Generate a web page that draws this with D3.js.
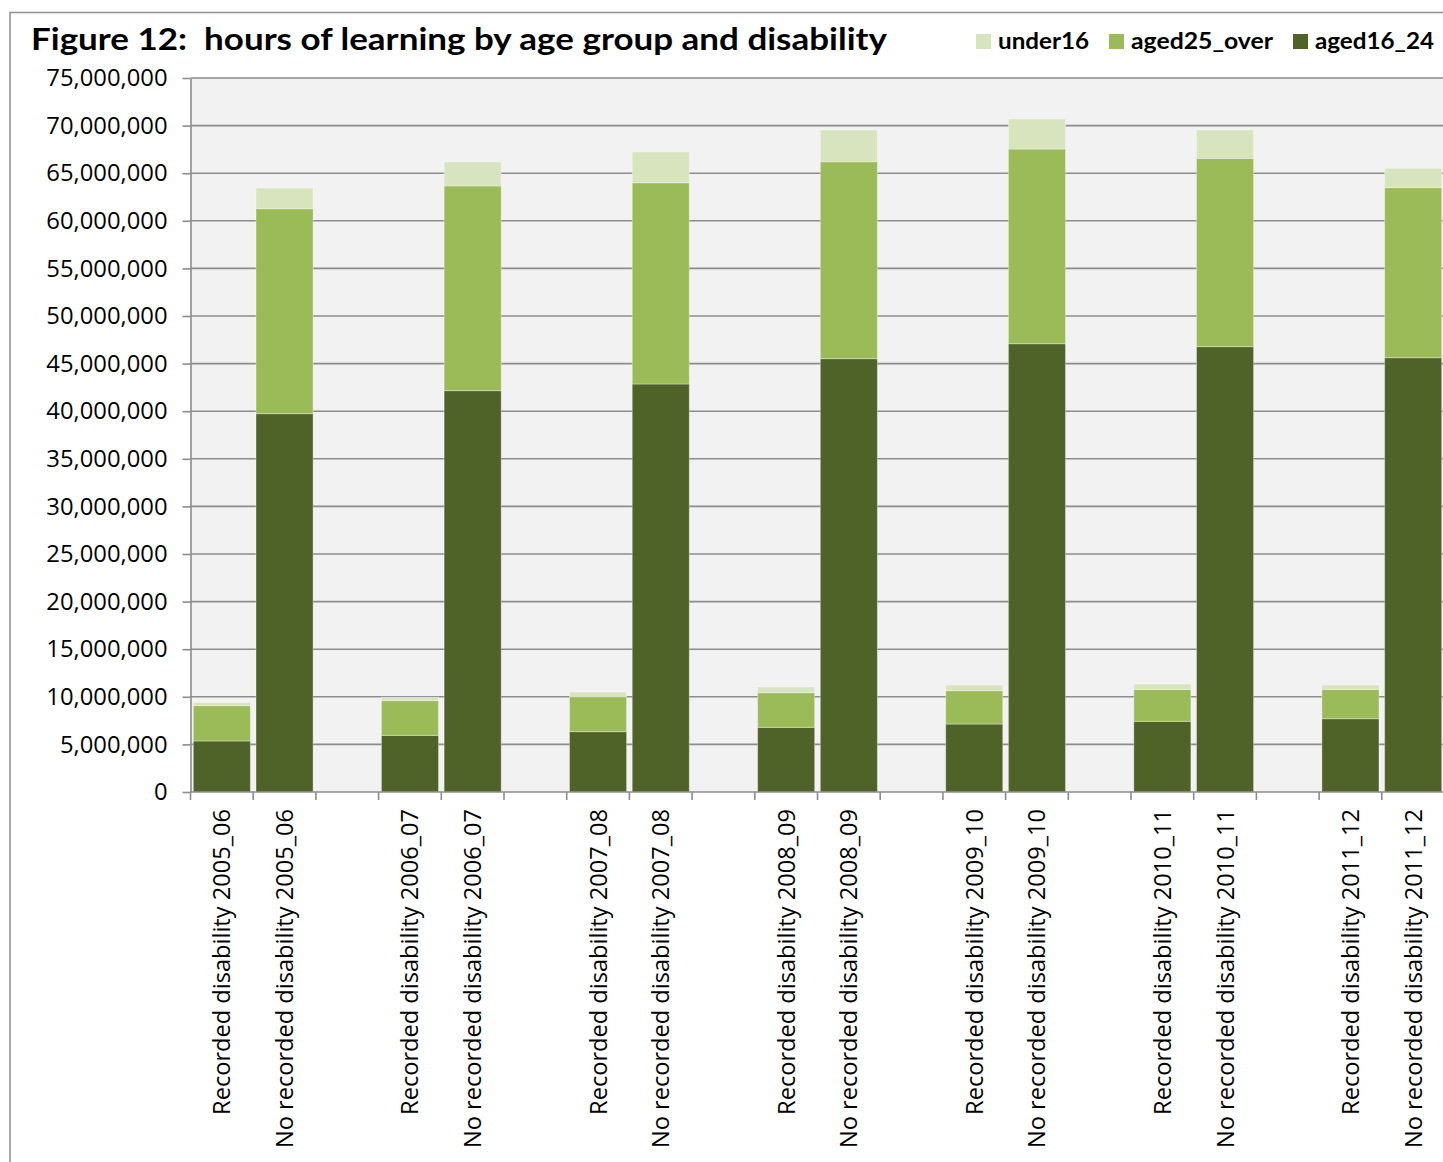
<!DOCTYPE html>
<html>
<head>
<meta charset="utf-8">
<script src="https://cdn.jsdelivr.net/npm/d3@7"></script>
<style>
  html, body { margin: 0; padding: 0; background: #ffffff; }
  svg { display: block; }
</style>
</head>
<body>
<svg id="chart" width="1443" height="1162"></svg>
<script>
// ---------------- DATA ----------------
const years = ["2005_06", "2006_07", "2007_08", "2008_09", "2009_10", "2010_11", "2011_12"];
const categories = [
  "Recorded disability 2005_06", "No recorded disability 2005_06",
  "Recorded disability 2006_07", "No recorded disability 2006_07",
  "Recorded disability 2007_08", "No recorded disability 2007_08",
  "Recorded disability 2008_09", "No recorded disability 2008_09",
  "Recorded disability 2009_10", "No recorded disability 2009_10",
  "Recorded disability 2010_11", "No recorded disability 2010_11",
  "Recorded disability 2011_12", "No recorded disability 2011_12"
];
const aged16_24 = [
  5360000, 39740000,
  5950000, 42160000,
  6340000, 42860000,
  6790000, 45520000,
  7140000, 47090000,
  7420000, 46780000,
  7700000, 45620000
];
const aged25_over = [
  3710000, 21530000,
  3650000, 21500000,
  3670000, 21140000,
  3640000, 20690000,
  3500000, 20450000,
  3360000, 19780000,
  3080000, 17860000
];
const under16 = [
  310000, 2180000,
  350000, 2520000,
  490000, 3230000,
  600000, 3330000,
  600000, 3150000,
  560000, 2980000,
  460000, 2030000
];
const yTicks = [0, 5000000, 10000000, 15000000, 20000000, 25000000, 30000000, 35000000,
  40000000, 45000000, 50000000, 55000000, 60000000, 65000000, 70000000, 75000000];
const seriesKeys = ["aged16_24", "aged25_over", "under16"];
const legendOrder = ["under16", "aged25_over", "aged16_24"];
const colors = { under16: "#d7e4bd", aged25_over: "#9bbb59", aged16_24: "#4f6228" };
const titleText = "Figure 12:  hours of learning by age group and disability";

// ---------------- LAYOUT ----------------
const svg = d3.select("#chart");
const W = 1443, H = 1162;
const plot = { left: 190.5, top: 78, bottom: 792, step: 62.7 };

// slots: recorded, no recorded, gap per year
const slots = [];
years.forEach((yr, i) => {
  slots.push(categories[2 * i]);
  slots.push(categories[2 * i + 1]);
  slots.push("gap_" + yr);
});
const plotRight = plot.left + slots.length * plot.step;

const rows = categories.map((c, i) => ({
  category: c,
  aged16_24: aged16_24[i],
  aged25_over: aged25_over[i],
  under16: under16[i]
}));

const x = d3.scaleBand().domain(slots).range([plot.left, plotRight]).padding(0);
const y = d3.scaleLinear().domain([0, 75000000]).range([plot.bottom, plot.top]);
const barW = x.bandwidth() * 0.91;
const barOff = (x.bandwidth() - barW) / 2;

svg.append("rect").attr("x", 0).attr("y", 0).attr("width", W).attr("height", H).attr("fill", "#ffffff");

// outer frame
svg.append("path")
  .attr("d", `M10,${H + 5} L10,12.5 L${W + 5},12.5`)
  .attr("fill", "none").attr("stroke", "#8f8f8f").attr("stroke-width", 1.5);

// plot background
svg.append("rect")
  .attr("x", plot.left).attr("y", plot.top)
  .attr("width", plotRight - plot.left).attr("height", plot.bottom - plot.top)
  .attr("fill", "#f2f2f2");

// gridlines
svg.append("g")
  .selectAll("line")
  .data(yTicks.filter(d => d > 0))
  .join("line")
  .attr("x1", plot.left).attr("x2", plotRight)
  .attr("y1", d => y(d)).attr("y2", d => y(d))
  .attr("stroke", "#8c8c8c").attr("stroke-width", 1.6);

// bars
const stacked = d3.stack().keys(seriesKeys)(rows);
svg.append("g")
  .selectAll("g")
  .data(stacked)
  .join("g")
  .attr("fill", d => colors[d.key])
  .selectAll("rect")
  .data(d => d)
  .join("rect")
  .attr("x", d => x(d.data.category) + barOff)
  .attr("width", barW)
  .attr("y", d => y(d[1]))
  .attr("height", d => y(d[0]) - y(d[1]))
  .attr("stroke", "rgba(255,255,255,0.35)")
  .attr("stroke-width", 1);

// y axis
const yAxis = d3.axisLeft(y)
  .tickValues(yTicks)
  .tickFormat(d3.format(","))
  .tickSize(8)
  .tickSizeOuter(0)
  .tickPadding(15);
const gy = svg.append("g").attr("transform", `translate(${plot.left},0)`).call(yAxis);
gy.select(".domain").attr("stroke", "#8c8c8c").attr("stroke-width", 1.6);
gy.selectAll(".tick line").attr("stroke", "#8c8c8c").attr("stroke-width", 1.6);
gy.selectAll(".tick text")
  .attr("font-family", "'Open Sans', sans-serif")
  .attr("font-size", 23.8)
  .attr("fill", "#000");

// x axis baseline
svg.append("line")
  .attr("x1", plot.left).attr("x2", plotRight)
  .attr("y1", plot.bottom).attr("y2", plot.bottom)
  .attr("stroke", "#8c8c8c").attr("stroke-width", 1.6);

// x tick marks between categories
const boundaries = slots.map(s => x(s)).concat([plotRight]);
svg.append("g")
  .selectAll("line")
  .data(boundaries)
  .join("line")
  .attr("x1", d => d).attr("x2", d => d)
  .attr("y1", plot.bottom).attr("y2", plot.bottom + 8)
  .attr("stroke", "#8c8c8c").attr("stroke-width", 1.6);

// x labels (rotated)
svg.append("g")
  .selectAll("text")
  .data(categories)
  .join("text")
  .attr("transform", d => `translate(${x(d) + x.bandwidth() / 2},${plot.bottom + 17}) rotate(-90)`)
  .attr("text-anchor", "end")
  .attr("dy", "0.36em")
  .attr("font-family", "'Open Sans', sans-serif")
  .attr("font-size", 23.6)
  .attr("fill", "#000")
  .text(d => d);

// title
svg.append("text")
  .attr("x", 31).attr("y", 50)
  .attr("xml:space", "preserve")
  .style("white-space", "pre")
  .attr("font-family", "Lato, sans-serif")
  .attr("font-weight", "bold")
  .attr("font-size", 31)
  .attr("textLength", 856)
  .attr("lengthAdjust", "spacingAndGlyphs")
  .attr("fill", "#000")
  .text(titleText);

// legend
const legendPos = { under16: 976, aged25_over: 1109, aged16_24: 1293 };
const legendW = { under16: 91, aged25_over: 142, aged16_24: 119 };
const lg = svg.append("g");
legendOrder.forEach(k => {
  lg.append("rect")
    .attr("x", legendPos[k]).attr("y", 34)
    .attr("width", 15).attr("height", 15)
    .attr("fill", colors[k]);
  lg.append("text")
    .attr("x", legendPos[k] + 22).attr("y", 49)
    .attr("font-family", "Lato, sans-serif")
    .attr("font-weight", "bold")
    .attr("font-size", 23.5)
    .attr("textLength", legendW[k])
    .attr("lengthAdjust", "spacingAndGlyphs")
    .attr("fill", "#000")
    .text(k);
});
</script>
</body>
</html>
